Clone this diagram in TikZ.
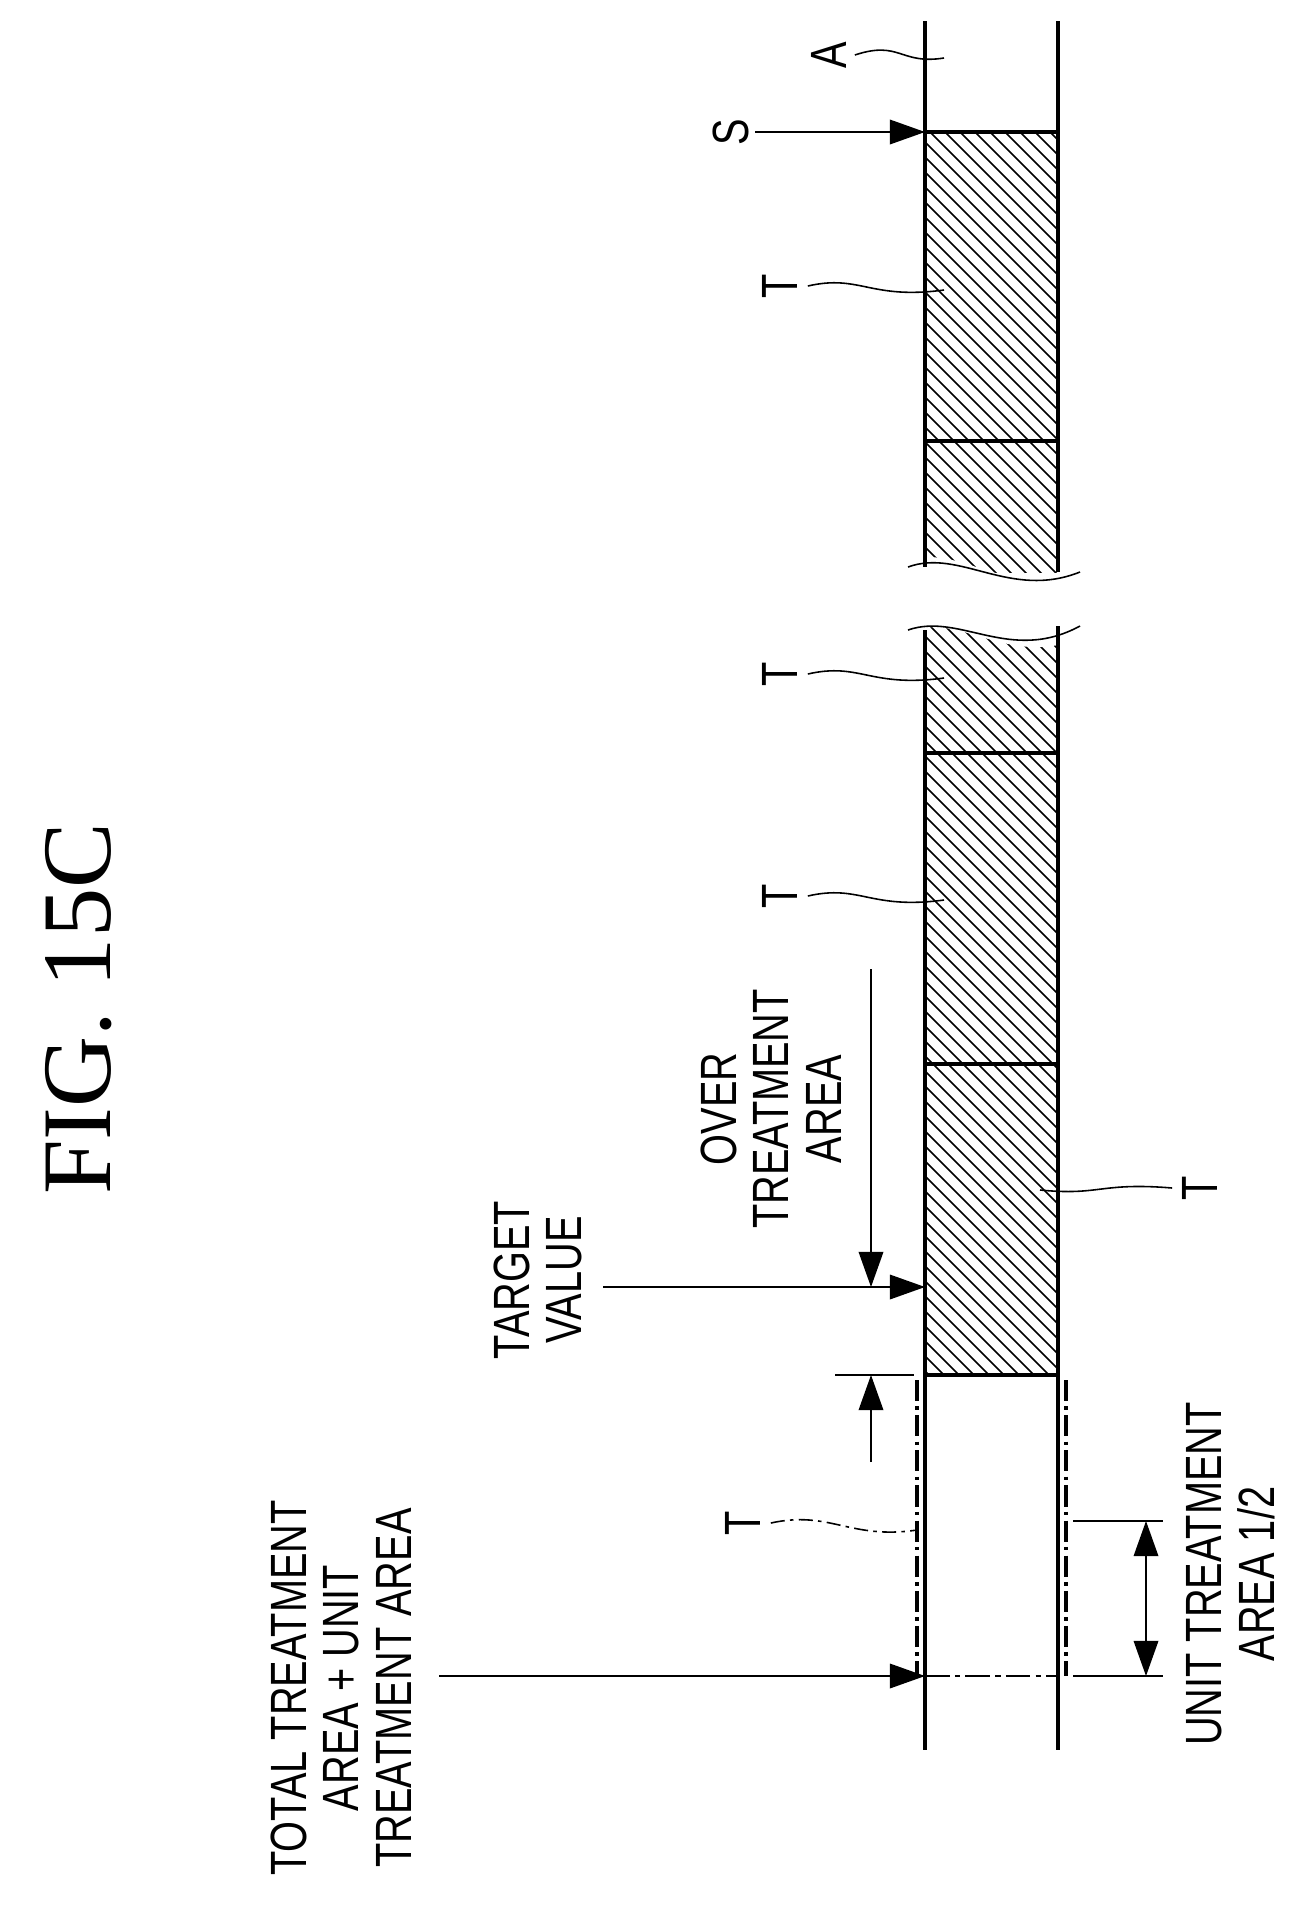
\documentclass[tikz,border=0pt]{standalone}
\usepackage{fontspec}
\setmainfont{Liberation Sans}
\newfontfamily\figfont{Liberation Serif}
\usetikzlibrary{arrows.meta, positioning}
\tikzset{
  edge/.style={line width=2pt},
  thin/.style={line width=0.9pt},
  dim/.style={thin, -{Triangle[length=20pt, width=14pt]}},
  dimboth/.style={thin, {Triangle[length=20pt, width=14pt]}-{Triangle[length=20pt, width=14pt]}},
  lbl/.style={rotate=90, font=\fontsize{29}{30}\selectfont, align=center, xscale=0.78, inner sep=0pt},
  hatch/.style={line width=0.9pt},
  ghost/.style={edge, dash pattern=on 12pt off 3pt on 2pt off 3pt}
}
\newcommand{\hatchbox}[4]{%
  \begin{scope}
    \clip (#1,#2) rectangle (#3,#4);
    \foreach \k in {-1300,-1285,...,150}
      \draw[hatch] (#1+\k,#2) -- ++(1300,1300);
  \end{scope}}
\begin{document}
\begin{tikzpicture}[x=0.02cm, y=-0.02cm]
  \useasboundingbox (0,0) rectangle (1310,1917);
  % strip edges
  \coordinate (L0) at (925,21);   \coordinate (R0) at (1058,21);
  \coordinate (Lb) at (925,1750); \coordinate (Rb) at (1058,1750);
  % hatched treatment blocks
  \hatchbox{925}{132}{1058}{572}
  \hatchbox{925}{626}{1058}{1375}
  \fill[white] (915,560) .. controls (960,545) and (1010,600) .. (1075,570) -- (1075,640) .. controls (1010,665) and (960,615) .. (915,630) -- cycle;
  \draw[edge] (L0) -- (925,567) (925,630) -- (Lb);
  \draw[edge] (R0) -- (1058,572) (1058,626) -- (Rb);
  \draw[thin] (908,567) .. controls (960,548) and (1010,600) .. (1080,572);
  \draw[thin] (908,630) .. controls (960,612) and (1010,664) .. (1080,626);
  \foreach \y in {132,441,753,1064,1375}
    \draw[edge] (925,\y) -- (1058,\y);
  % removed treatment area
  \draw[ghost] (917,1380) -- (917,1676);
  \draw[ghost] (1066,1380) -- (1066,1676);
  \draw[thin, dash pattern=on 14pt off 3pt on 3pt off 3pt] (925,1676) -- (1058,1676);
  % labels
  \node[font=\figfont\fontsize{56}{56}\selectfont, rotate=90] (fig) at (79,1009) {FIG. 15C};
  \node[lbl] (A) at (829,55) {A};
  \draw[thin] (A.south) ++(8,0) coordinate (a0) .. controls (900,40) and (900,65) .. (944,58);
  \node[lbl] (S) at (731,132) {S};
  \draw[dim] (S.south) ++(6,0) -- (925,132);
  \foreach \n/\y in {t1/286, t2/674, t3/896} {
    \node[lbl] (\n) at (780,\y) {T};
    \draw[thin] (\n.south) ++(10,0) .. controls (860,\y-12) and (870,\y+14) .. (944,\y+4);
  }
  \node[lbl] (t4) at (1200,1188) {T};
  \draw[thin] (t4.north) ++(-10,0) .. controls (1100,1182) and (1100,1196) .. (1040,1190);
  \node[lbl] (t5) at (743,1523) {T};
  \draw[thin, dash pattern=on 8pt off 3pt on 2pt off 3pt] (t5.south) ++(10,0) .. controls (830,1510) and (850,1540) .. (917,1530);
  \node[lbl] (over) at (771,1109) {OVER\\TREATMENT\\AREA};
  \coordinate (o1) at (871,969);
  \coordinate (o2) at (871,1287);
  \coordinate (o3) at (871,1462);
  \coordinate (o4) at (871,1375);
  \draw[dim] (o1) -- (o2);
  \draw[dim] (o3) -- (o4);
  \draw[thin] (835,1375) -- (914,1375);
  \node[lbl] (target) at (538,1280) {TARGET\\VALUE};
  \draw[dim] (603,1287) -- (925,1287);
  \node[lbl] (total) at (341,1688) {TOTAL TREATMENT\\AREA + UNIT\\TREATMENT AREA};
  \draw[dim] (439,1676) -- (925,1676);
  \node[lbl] (unit) at (1231,1574) {UNIT TREATMENT\\AREA 1/2};
  \draw[thin] (1073,1521) -- (1163,1521) (1073,1676) -- (1163,1676);
  \draw[dimboth] (1146,1521) -- (1146,1676);
\end{tikzpicture}
\end{document}
